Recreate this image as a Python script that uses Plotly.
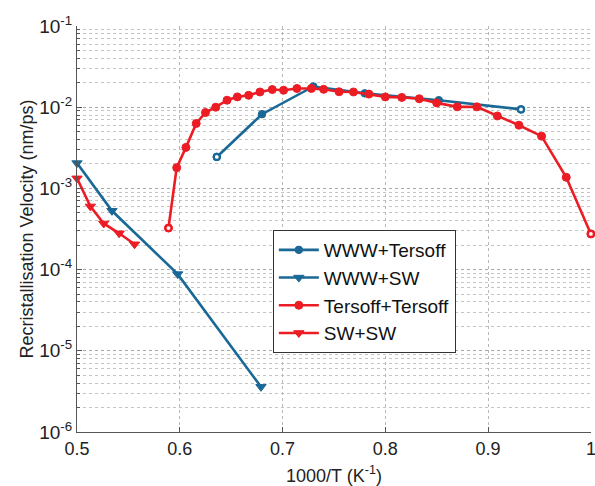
import plotly.graph_objects as go

# Data
www_tersoff_x = [0.636, 0.680, 0.730, 0.780, 0.852, 0.932]
www_tersoff_y = [2.44e-3, 8.2e-3, 1.80e-2, 1.48e-2, 1.22e-2, 9.4e-3]

www_sw_x = [0.500, 0.534, 0.598, 0.679]
www_sw_y = [2.05e-3, 5.3e-4, 8.8e-5, 3.6e-6]

tt_x = [0.589, 0.597, 0.606, 0.616, 0.625, 0.635, 0.646, 0.656, 0.667, 0.678,
        0.690, 0.701, 0.714, 0.728, 0.740, 0.755, 0.769, 0.784, 0.800, 0.816,
        0.833, 0.850, 0.870, 0.889, 0.909, 0.930, 0.952, 0.976, 1.000]
tt_y = [3.25e-4, 1.80e-3, 3.2e-3, 6.3e-3, 8.6e-3, 1.00e-2, 1.22e-2, 1.34e-2, 1.40e-2, 1.54e-2,
        1.65e-2, 1.62e-2, 1.70e-2, 1.70e-2, 1.66e-2, 1.55e-2, 1.54e-2, 1.45e-2, 1.34e-2, 1.32e-2,
        1.27e-2, 1.13e-2, 1.01e-2, 1.01e-2, 7.8e-3, 6.0e-3, 4.4e-3, 1.37e-3, 2.75e-4]

sw_x = [0.500, 0.513, 0.526, 0.541, 0.556]
sw_y = [1.33e-3, 6.0e-4, 3.7e-4, 2.8e-4, 2.05e-4]

y_tick_exps = [-6, -5, -4, -3, -2, -1]
x_tick_vals = [0.5, 0.6, 0.7, 0.8, 0.9, 1.0]
x_tick_text = ["0.5", "0.6", "0.7", "0.8", "0.9", "1"]

BLUE = "#1A6896"
RED = "#EC1C24"

fig = go.Figure()


def add_series(x, y, name, color, symbol, size, open_ends):
    fig.add_trace(go.Scatter(
        x=x, y=y, mode="lines+markers", name=name, cliponaxis=False,
        line=dict(color=color, width=2.6),
        marker=dict(symbol=symbol, size=size, color=color, line=dict(color=color, width=1))))
    if open_ends:
        fig.add_trace(go.Scatter(
            x=[x[0], x[-1]], y=[y[0], y[-1]], mode="markers", showlegend=False,
            cliponaxis=False, hoverinfo="skip",
            marker=dict(symbol="circle", size=6, color="white", line=dict(color=color, width=2.2))))


add_series(www_tersoff_x, www_tersoff_y, "WWW+Tersoff", BLUE, "circle", 7.5, True)
add_series(www_sw_x, www_sw_y, "WWW+SW", BLUE, "triangle-down", 9, False)
add_series(tt_x, tt_y, "Tersoff+Tersoff", RED, "circle", 8, True)
add_series(sw_x, sw_y, "SW+SW", RED, "triangle-down", 9, False)

minor_vals = [m * 10.0 ** e for e in y_tick_exps[:-1] for m in range(2, 10)]

fig.update_layout(
    width=595, height=486,
    margin=dict(l=77, r=4, t=26, b=54),
    paper_bgcolor="white", plot_bgcolor="white",
    font=dict(family="Liberation Sans, Arial, sans-serif", color="#222222"),
    showlegend=True,
    legend=dict(x=0.381, y=0.4975, xanchor="left", yanchor="top",
                bgcolor="white", bordercolor="#333333", borderwidth=1,
                font=dict(size=19, color="#111111"),
                tracegroupgap=0, itemwidth=40),
)

fig.update_xaxes(
    range=[0.5, 1.0001], tickmode="array", tickvals=x_tick_vals, ticktext=x_tick_text,
    automargin=False, ticklabeloverflow="allow",
    showgrid=True, gridcolor="#B8B8B8", griddash="dot", gridwidth=1,
    showline=True, linecolor="#555555", linewidth=1.2,
    ticks="inside", ticklen=5, tickcolor="#555555",
    tickfont=dict(size=18, color="#222222"),
    title=dict(text="1000/T (K<sup>-1</sup>)", font=dict(size=18, color="#222222"), standoff=11),
    zeroline=False,
)
fig.update_yaxes(
    type="log", range=[-6, -1], tickmode="array",
    automargin=False,
    tickvals=[10.0 ** e for e in y_tick_exps],
    ticktext=["10<sup>%d</sup>" % e for e in y_tick_exps],
    showgrid=True, gridcolor="#A8A8A8", griddash="dot", gridwidth=1,
    minor=dict(tickmode="array", tickvals=minor_vals, showgrid=True,
               gridcolor="#C4C4C4", griddash="dot", gridwidth=1,
               ticks="inside", ticklen=3, tickcolor="#555555"),
    showline=True, linecolor="#555555", linewidth=1.2,
    ticks="inside", ticklen=5, tickcolor="#555555",
    tickfont=dict(size=19, color="#222222"),
    title=dict(text="Recristallisation Velocity (nm/ps)", font=dict(size=18, color="#222222"), standoff=0),
    zeroline=False,
)

fig.write_html("out.html", config={"displayModeBar": False},
               post_script="document.body.style.margin='0';")
